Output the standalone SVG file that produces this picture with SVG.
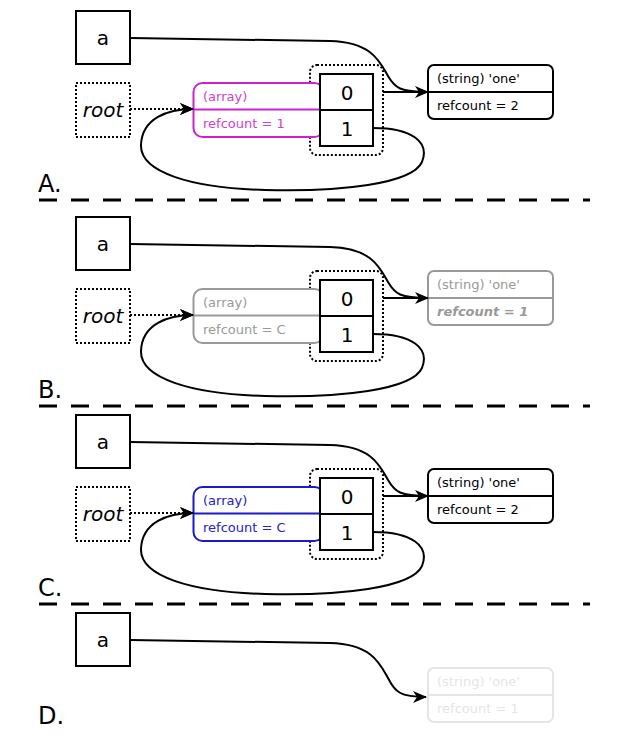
<svg xmlns="http://www.w3.org/2000/svg" width="620" height="750" viewBox="0 0 620 750">
<style>
text{font-family:"DejaVu Sans","Liberation Sans",sans-serif;}
.box{fill:#fff;stroke:#000;stroke-width:2;}
.dot{fill:#fff;stroke:#000;stroke-width:2;stroke-dasharray:2 2;}
.big{font-size:20px;fill:#000;}
.lbl{font-size:24px;fill:#000;}
.sm{font-size:13px;}
.conn{fill:none;stroke:#000;stroke-width:2;}
.dconn{fill:none;stroke:#000;stroke-width:2;stroke-dasharray:2 2;}
.sep{stroke:#000;stroke-width:3;stroke-dasharray:18 14;}
</style>
<defs>
<marker id="ah" viewBox="0 0 14 12" refX="13" refY="6" markerWidth="14" markerHeight="12" markerUnits="userSpaceOnUse" orient="auto">
<path d="M0,0 L14,6 L0,12 L4,6 z" fill="#000"/>
</marker>
</defs>
<g id="separators">
<line class="sep" x1="39" y1="200" x2="590" y2="200"/>
<line class="sep" x1="39" y1="406" x2="590" y2="406"/>
<line class="sep" x1="39" y1="604" x2="590" y2="604"/>
</g>
<!-- Section A -->
<g id="sectionA">
<g id="A-a"><rect class="box" x="76" y="11" width="54" height="53"/><text class="big" x="103" y="45" text-anchor="middle">a</text></g>
<g id="A-root"><rect class="dot" x="76" y="83" width="54" height="54"/><text class="big" x="103" y="117" text-anchor="middle" font-style="italic">root</text></g>
<g id="A-indexgroup"><rect class="dot" x="310" y="65" width="73" height="90" rx="7"/></g>
<g id="A-array"><rect x="193.5" y="83" width="130" height="54" rx="9" fill="#fff" stroke="#cc22cc" stroke-width="2"/><line x1="193.5" y1="109.5" x2="320" y2="109.5" stroke="#cc22cc" stroke-width="2"/><text class="sm" x="203" y="101" fill="#cc44cc">(array)</text><text class="sm" x="203" y="128" fill="#cc44cc">refcount = 1</text></g>
<g id="A-index"><rect class="box" x="320" y="74" width="53" height="72"/><line x1="320" y1="110" x2="373" y2="110" stroke="#000" stroke-width="2"/><text class="big" x="347" y="100" text-anchor="middle">0</text><text class="big" x="347" y="136" text-anchor="middle">1</text></g>
<g id="A-string"><rect class="box" x="428" y="65" width="125" height="54" rx="6"/><line x1="428" y1="92" x2="553" y2="92" stroke="#000" stroke-width="2"/><text class="sm" x="437" y="83">(string) 'one'</text><text class="sm" x="437" y="110">refcount = 2</text></g>
<text class="lbl" x="38" y="192">A.</text>
</g>
<g id="sectionA-connectors">
<path class="conn" d="M130,38 L330,41 C372,42 380,62 388,76 C395,88 400,92 428,92" marker-end="url(#ah)"/>
<path class="conn" d="M383,92 L428,92"/>
<path class="conn" d="M373,128 C412,128 430,142 422,162 C412,184 340,192 265,190 C190,188 140,172 141,145 C142,118 168,109 193,109" marker-end="url(#ah)"/>
<path class="dconn" d="M130,109 L193,109" marker-end="url(#ah)"/>
</g>
<!-- Section B -->
<g id="sectionB" transform="translate(0,206)">
<g id="B-a"><rect class="box" x="76" y="11" width="54" height="53"/><text class="big" x="103" y="45" text-anchor="middle">a</text></g>
<g id="B-root"><rect class="dot" x="76" y="83" width="54" height="54"/><text class="big" x="103" y="117" text-anchor="middle" font-style="italic">root</text></g>
<g id="B-indexgroup"><rect class="dot" x="310" y="65" width="73" height="90" rx="7"/></g>
<g id="B-array"><rect x="193.5" y="83" width="130" height="54" rx="9" fill="#fff" stroke="#999" stroke-width="2"/><line x1="193.5" y1="109.5" x2="320" y2="109.5" stroke="#999" stroke-width="2"/><text class="sm" x="203" y="101" fill="#999">(array)</text><text class="sm" x="203" y="128" fill="#999">refcount = C</text></g>
<g id="B-index"><rect class="box" x="320" y="74" width="53" height="72"/><line x1="320" y1="110" x2="373" y2="110" stroke="#000" stroke-width="2"/><text class="big" x="347" y="100" text-anchor="middle">0</text><text class="big" x="347" y="136" text-anchor="middle">1</text></g>
<g id="B-string"><rect x="428" y="65" width="125" height="54" rx="6" fill="#fff" stroke="#999" stroke-width="2"/><line x1="428" y1="92" x2="553" y2="92" stroke="#999" stroke-width="2"/><text class="sm" x="437" y="83" fill="#999">(string) 'one'</text><text class="sm" x="437" y="110" fill="#999" font-weight="bold" font-style="italic">refcount = 1</text></g>
<text class="lbl" x="38" y="192">B.</text>
<g id="sectionB-connectors">
<path class="conn" d="M130,38 L330,41 C372,42 380,62 388,76 C395,88 400,92 428,92" marker-end="url(#ah)"/>
<path class="conn" d="M383,92 L428,92"/>
<path class="conn" d="M373,128 C412,128 430,142 422,162 C412,184 340,192 265,190 C190,188 140,172 141,145 C142,118 168,109 193,109" marker-end="url(#ah)"/>
<path class="dconn" d="M130,109 L193,109" marker-end="url(#ah)"/>
</g>
</g>
<!-- Section C -->
<g id="sectionC" transform="translate(0,404)">
<g id="C-a"><rect class="box" x="76" y="11" width="54" height="53"/><text class="big" x="103" y="45" text-anchor="middle">a</text></g>
<g id="C-root"><rect class="dot" x="76" y="83" width="54" height="54"/><text class="big" x="103" y="117" text-anchor="middle" font-style="italic">root</text></g>
<g id="C-indexgroup"><rect class="dot" x="310" y="65" width="73" height="90" rx="7"/></g>
<g id="C-array"><rect x="193.5" y="83" width="130" height="54" rx="9" fill="#fff" stroke="#1a1acc" stroke-width="2"/><line x1="193.5" y1="109.5" x2="320" y2="109.5" stroke="#1a1acc" stroke-width="2"/><text class="sm" x="203" y="101" fill="#2222cc">(array)</text><text class="sm" x="203" y="128" fill="#2222cc">refcount = C</text></g>
<g id="C-index"><rect class="box" x="320" y="74" width="53" height="72"/><line x1="320" y1="110" x2="373" y2="110" stroke="#000" stroke-width="2"/><text class="big" x="347" y="100" text-anchor="middle">0</text><text class="big" x="347" y="136" text-anchor="middle">1</text></g>
<g id="C-string"><rect class="box" x="428" y="65" width="125" height="54" rx="6"/><line x1="428" y1="92" x2="553" y2="92" stroke="#000" stroke-width="2"/><text class="sm" x="437" y="83">(string) 'one'</text><text class="sm" x="437" y="110">refcount = 2</text></g>
<text class="lbl" x="38" y="192">C.</text>
<g id="sectionC-connectors">
<path class="conn" d="M130,38 L330,41 C372,42 380,62 388,76 C395,88 400,92 428,92" marker-end="url(#ah)"/>
<path class="conn" d="M383,92 L428,92"/>
<path class="conn" d="M373,128 C412,128 430,142 422,162 C412,184 340,192 265,190 C190,188 140,172 141,145 C142,118 168,109 193,109" marker-end="url(#ah)"/>
<path class="dconn" d="M130,109 L193,109" marker-end="url(#ah)"/>
</g>
</g>
<!-- Section D -->
<g id="sectionD" transform="translate(0,602)">
<g id="D-a"><rect class="box" x="76" y="11" width="54" height="53"/><text class="big" x="103" y="45" text-anchor="middle">a</text></g>
<g id="D-string" opacity="0.25"><rect x="428" y="66" width="125" height="54" rx="6" fill="#fff" stroke="#999" stroke-width="2"/><line x1="428" y1="93" x2="553" y2="93" stroke="#999" stroke-width="2"/><text class="sm" x="437" y="84" fill="#999">(string) 'one'</text><text class="sm" x="437" y="111" fill="#999">refcount = 1</text></g>
<text class="lbl" x="38" y="122">D.</text>
<g id="sectionD-connectors">
<path class="conn" d="M130,38 L330,41 C372,42 380,62 388,76 C395,90 400,95 426,95" marker-end="url(#ah)"/>
</g>
</g>
</svg>
